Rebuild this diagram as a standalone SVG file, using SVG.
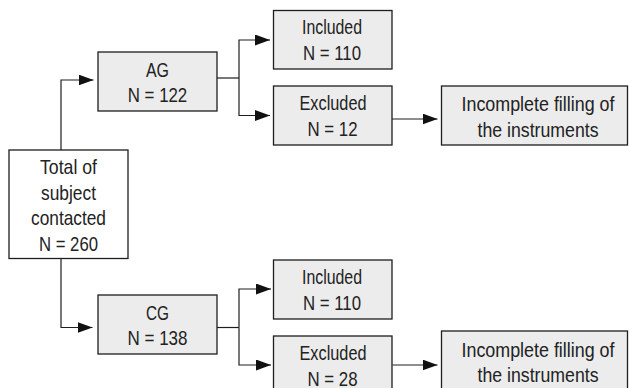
<svg xmlns="http://www.w3.org/2000/svg" width="629" height="388" viewBox="0 0 629 388">
<style>
.box{fill:#ececec;stroke:#1e1e1e;stroke-width:1.3}
.white{fill:#ffffff}
.t{font-family:"Liberation Sans Narrow","Liberation Sans",Arial,sans-serif;font-size:21px;fill:#222;text-anchor:middle}
.c{fill:none;stroke:#1e1e1e;stroke-width:1.2}
</style>
<defs>
<marker id="ah" markerUnits="userSpaceOnUse" markerWidth="16" markerHeight="12" refX="15" refY="5.5" orient="auto">
<path d="M0,0 L15,5.5 L0,11 z" fill="#111"/>
</marker>
</defs>
<g id="connectors">
<path class="c" d="M61,150 V80 H93.5" marker-end="url(#ah)"/>
<path class="c" d="M217,78 H239"/>
<path class="c" d="M239,78 V40 H270" marker-end="url(#ah)"/>
<path class="c" d="M239,78 V115.5 H270" marker-end="url(#ah)"/>
<path class="c" d="M392,119 H437.5" marker-end="url(#ah)"/>
<path class="c" d="M61,258.5 V327.5 H92.5" marker-end="url(#ah)"/>
<path class="c" d="M217,327.5 H239"/>
<path class="c" d="M239,327.5 V289 H271" marker-end="url(#ah)"/>
<path class="c" d="M239,327.5 V365 H271" marker-end="url(#ah)"/>
<path class="c" d="M392.5,365 H437.5" marker-end="url(#ah)"/>
</g>
<g id="total">
<rect class="box white" x="9" y="150" width="119" height="108.5"/>
<text class="t" x="68.5" y="174" textLength="57" lengthAdjust="spacingAndGlyphs">Total of</text>
<text class="t" x="68.5" y="199.5" textLength="55" lengthAdjust="spacingAndGlyphs">subject</text>
<text class="t" x="68.5" y="225" textLength="75" lengthAdjust="spacingAndGlyphs">contacted</text>
<text class="t" x="68.5" y="250.5" textLength="59" lengthAdjust="spacingAndGlyphs">N = 260</text>
</g>
<g id="ag">
<rect class="box" x="98" y="52" width="119" height="59"/>
<text class="t" x="157.5" y="76.5" textLength="23" lengthAdjust="spacingAndGlyphs">AG</text>
<text class="t" x="157.5" y="101.5" textLength="59.5" lengthAdjust="spacingAndGlyphs">N = 122</text>
</g>
<g id="ag-included">
<rect class="box" x="273.5" y="10.5" width="118.5" height="58.5"/>
<text class="t" x="332" y="33.5" textLength="60" lengthAdjust="spacingAndGlyphs">Included</text>
<text class="t" x="332" y="60" textLength="58" lengthAdjust="spacingAndGlyphs">N = 110</text>
</g>
<g id="ag-excluded">
<rect class="box" x="273.5" y="86" width="118.5" height="59"/>
<text class="t" x="333" y="109.5" textLength="67" lengthAdjust="spacingAndGlyphs">Excluded</text>
<text class="t" x="332.5" y="136" textLength="50" lengthAdjust="spacingAndGlyphs">N = 12</text>
</g>
<g id="ag-incomplete">
<rect class="box" x="441.5" y="86" width="186" height="59"/>
<text class="t" x="538" y="111" textLength="153" lengthAdjust="spacingAndGlyphs">Incomplete filling of</text>
<text class="t" x="538" y="136.5" textLength="121" lengthAdjust="spacingAndGlyphs">the instruments</text>
</g>
<g id="cg">
<rect class="box" x="98" y="295" width="119" height="59"/>
<text class="t" x="157.5" y="319.5" textLength="23" lengthAdjust="spacingAndGlyphs">CG</text>
<text class="t" x="157.5" y="345" textLength="60" lengthAdjust="spacingAndGlyphs">N = 138</text>
</g>
<g id="cg-included">
<rect class="box" x="273.5" y="260" width="118.5" height="59"/>
<text class="t" x="332" y="283.5" textLength="60" lengthAdjust="spacingAndGlyphs">Included</text>
<text class="t" x="332" y="310" textLength="58" lengthAdjust="spacingAndGlyphs">N = 110</text>
</g>
<g id="cg-excluded">
<rect class="box" x="273.5" y="336" width="118.5" height="59"/>
<text class="t" x="333" y="359.5" textLength="67" lengthAdjust="spacingAndGlyphs">Excluded</text>
<text class="t" x="332.5" y="386" textLength="50" lengthAdjust="spacingAndGlyphs">N = 28</text>
</g>
<g id="cg-incomplete">
<rect class="box" x="441.5" y="331" width="186" height="59"/>
<text class="t" x="538" y="356.5" textLength="153" lengthAdjust="spacingAndGlyphs">Incomplete filling of</text>
<text class="t" x="538" y="382" textLength="121" lengthAdjust="spacingAndGlyphs">the instruments</text>
</g>
</svg>
